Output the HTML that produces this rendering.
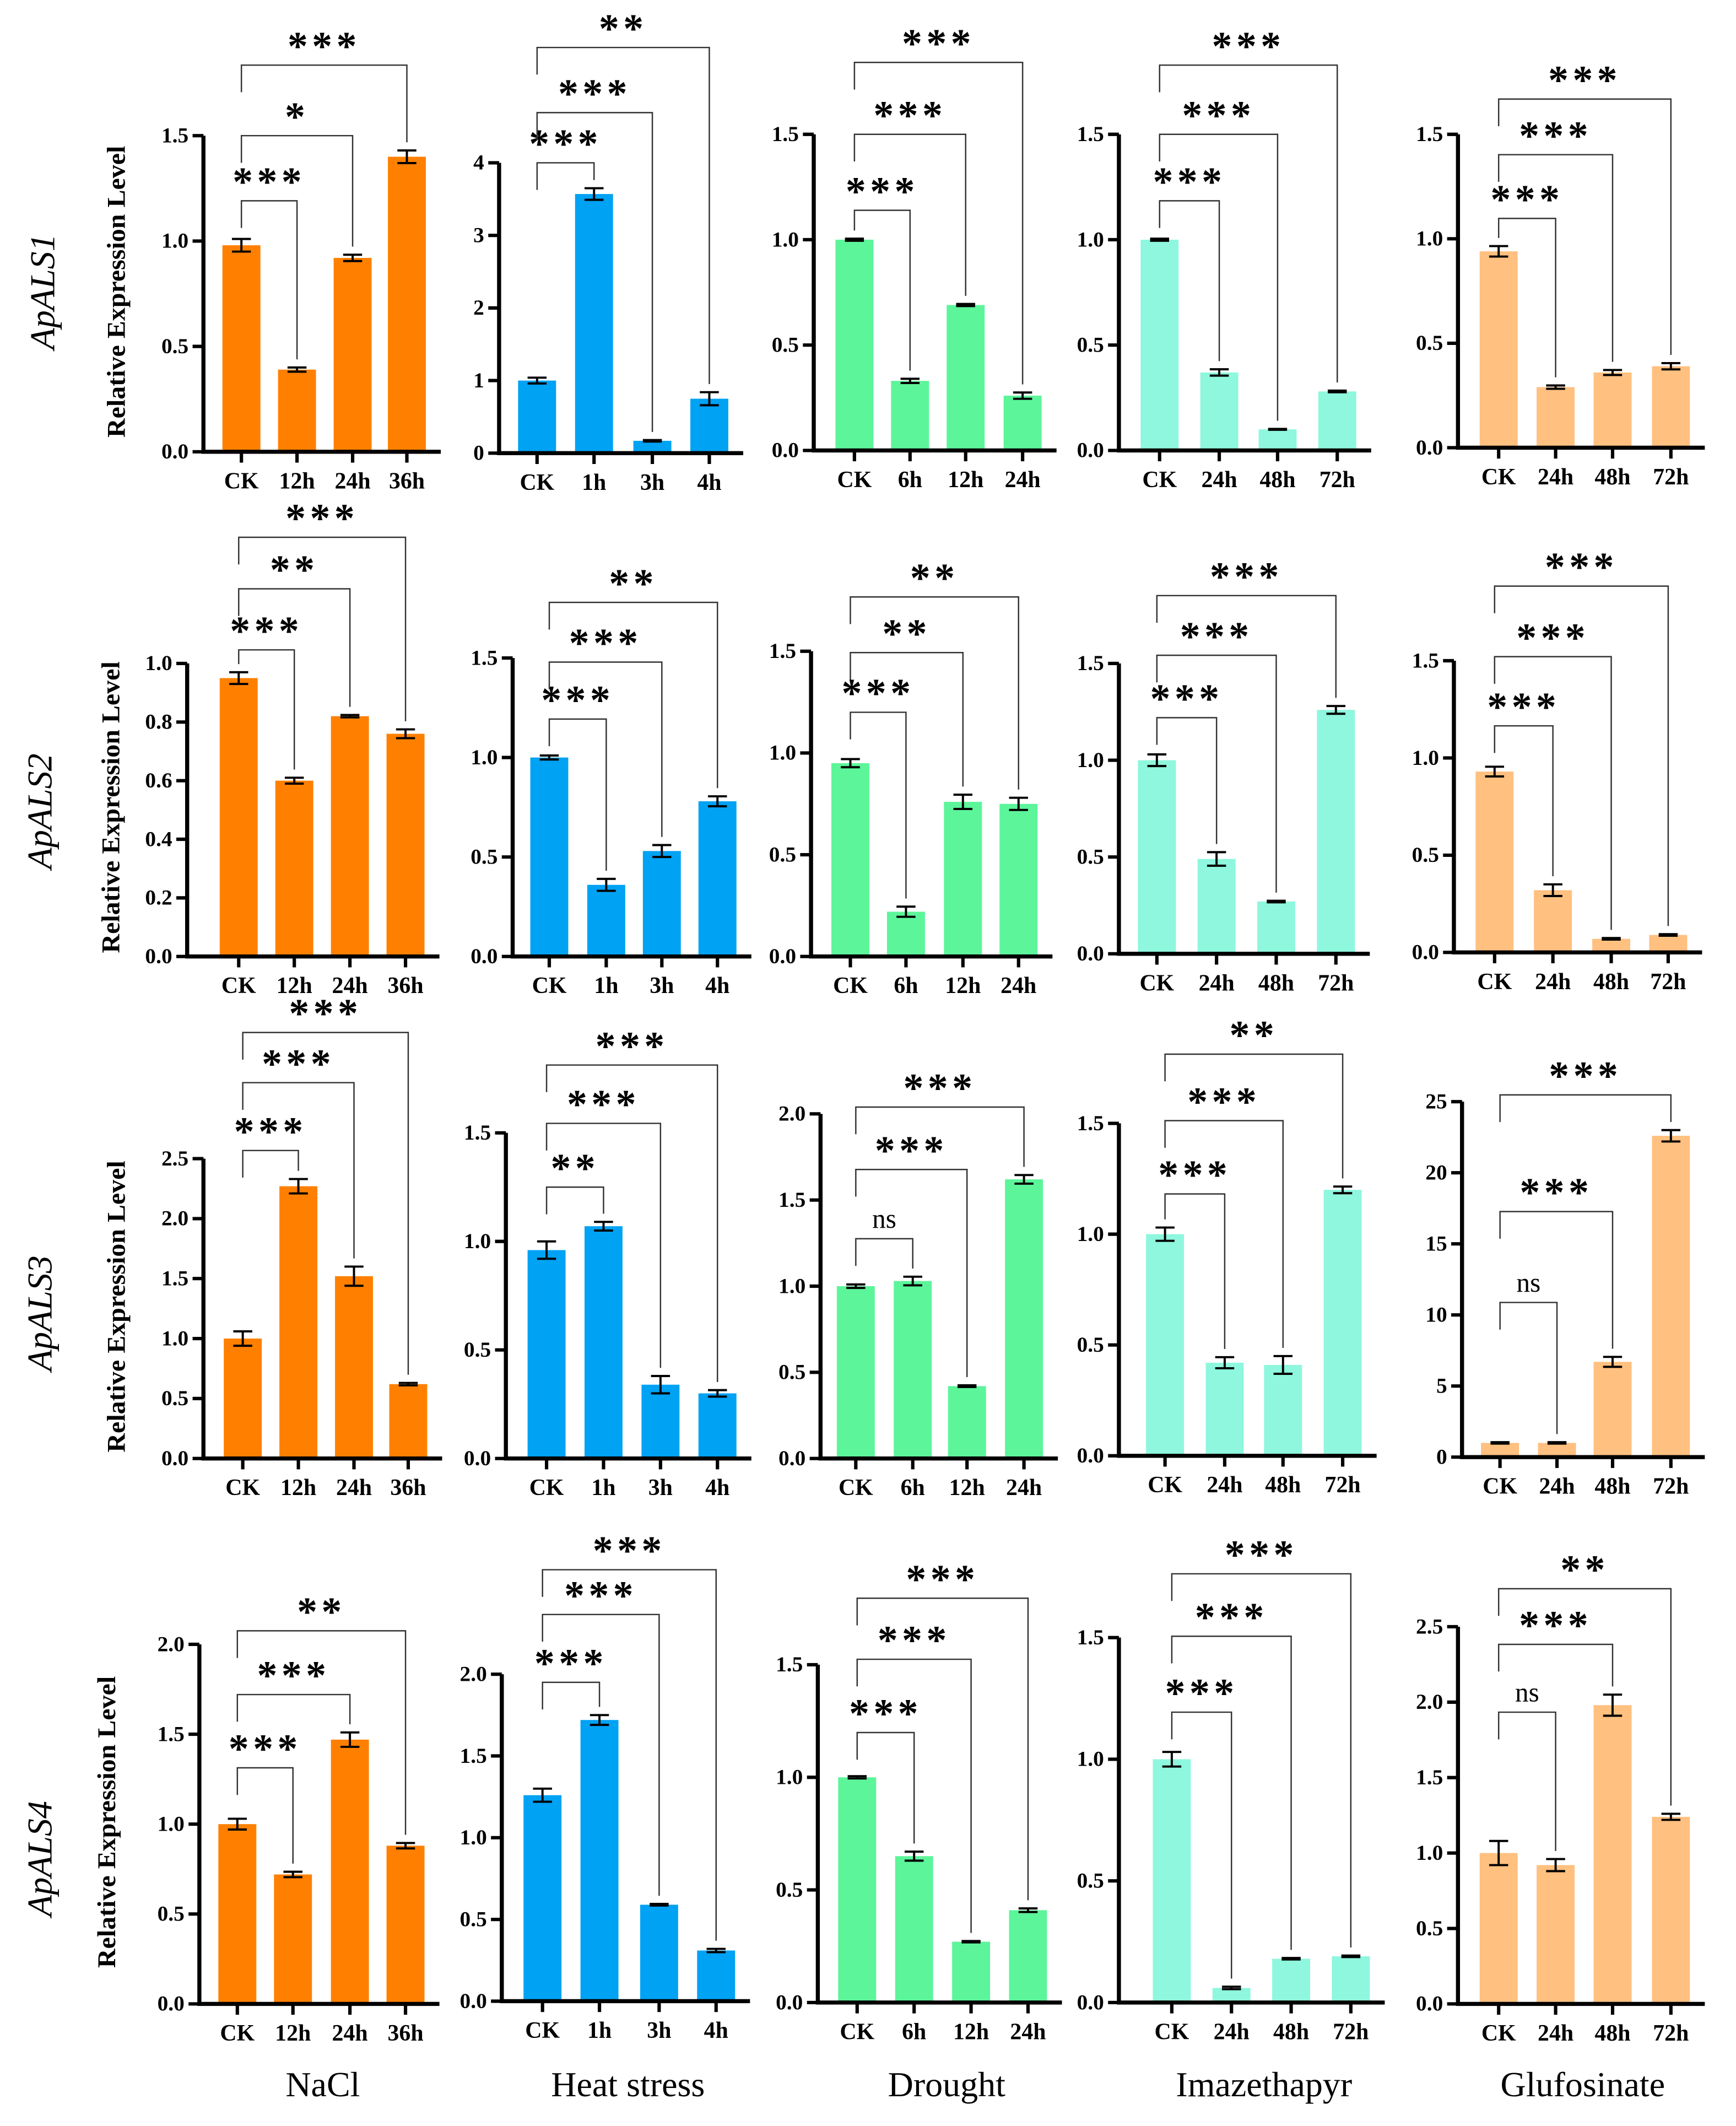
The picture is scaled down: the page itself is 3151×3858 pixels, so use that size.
<!DOCTYPE html>
<html><head><meta charset="utf-8"><style>
html,body{margin:0;padding:0;background:#fff;}
svg{display:block;}
text{font-family:"Liberation Serif",serif;}
</style></head><body>
<svg id="chart" width="3151" height="3858" viewBox="0 0 1280 1567" preserveAspectRatio="none" xmlns="http://www.w3.org/2000/svg">
<rect width="1280" height="1567" fill="#fff"/>
</svg>
<script>
// ---- data ----
const catNaCl = ["CK","12h","24h","36h"];
const catHeat = ["CK","1h","3h","4h"];
const catDrought = ["CK","6h","12h","24h"];
const catHerb = ["CK","24h","48h","72h"];

const r1NaCl = [0.98,0.39,0.92,1.40];   const e1NaCl = [0.03,0.01,0.015,0.03];
const r1Heat = [1.0,3.57,0.17,0.75];    const e1Heat = [0.04,0.08,0.01,0.09];
const r1Dro = [1.0,0.33,0.69,0.26];     const e1Dro = [0.005,0.01,0.005,0.015];
const r1Ima = [1.0,0.37,0.10,0.28];     const e1Ima = [0.005,0.015,0.002,0.004];
const r1Glu = [0.94,0.29,0.36,0.39];    const e1Glu = [0.025,0.008,0.012,0.015];

const r2NaCl = [0.95,0.60,0.82,0.76];   const e2NaCl = [0.02,0.01,0.004,0.015];
const r2Heat = [1.0,0.36,0.53,0.78];    const e2Heat = [0.01,0.03,0.03,0.025];
const r2Dro = [0.95,0.22,0.76,0.75];    const e2Dro = [0.02,0.025,0.035,0.03];
const r2Ima = [1.0,0.49,0.27,1.26];     const e2Ima = [0.03,0.035,0.004,0.02];
const r2Glu = [0.93,0.32,0.07,0.09];    const e2Glu = [0.025,0.03,0.004,0.004];

const r3NaCl = [1.0,2.27,1.52,0.62];    const e3NaCl = [0.06,0.06,0.08,0.01];
const r3Heat = [0.96,1.07,0.34,0.30];   const e3Heat = [0.04,0.02,0.04,0.015];
const r3Dro = [1.0,1.03,0.42,1.62];     const e3Dro = [0.01,0.025,0.005,0.025];
const r3Ima = [1.0,0.42,0.41,1.20];     const e3Ima = [0.03,0.025,0.04,0.015];
const r3Glu = [1.0,1.0,6.7,22.6];       const e3Glu = [0.05,0.05,0.35,0.4];

const r4NaCl = [1.0,0.72,1.47,0.88];    const e4NaCl = [0.03,0.015,0.04,0.015];
const r4Heat = [1.26,1.72,0.59,0.31];   const e4Heat = [0.04,0.03,0.005,0.01];
const r4Dro = [1.0,0.65,0.27,0.41];     const e4Dro = [0.005,0.02,0.003,0.008];
const r4Ima = [1.0,0.06,0.18,0.19];     const e4Ima = [0.03,0.005,0.003,0.003];
const r4Glu = [1.0,0.92,1.98,1.24];     const e4Glu = [0.08,0.04,0.07,0.02];

const sig1 = [["***","*","***"],["***","***","**"],["***","***","***"],["***","***","***"],["***","***","***"]];
const sig2 = [["***","**","***"],["***","***","**"],["***","**","**"],["***","***","***"],["***","***","***"]];
const sig3 = [["***","***","***"],["**","***","***"],["ns","***","***"],["***","***","**"],["ns","***","***"]];
const sig4 = [["***","***","**"],["***","***","***"],["***","***","***"],["***","***","***"],["ns","***","**"]];

const ticks15 = [0,0.5,1.0,1.5];
const ticks4 = [0,1,2,3,4];
const ticks10 = [0,0.2,0.4,0.6,0.8,1.0];
const ticks25 = [0,0.5,1.0,1.5,2.0,2.5];
const ticks20 = [0,0.5,1.0,1.5,2.0];
const ticks25i = [0,5,10,15,20,25];

const genes = ["ApALS1","ApALS2","ApALS3","ApALS4"];
const treatments = ["NaCl","Heat stress","Drought","Imazethapyr","Glufosinate"];

// ---- layout ----
const COLORS = ["#FF8000","#00A2F4","#5CF59A","#8EF7DD","#FFC080"];
const panels = [
 {r:0,c:0,cat:catNaCl,v:r1NaCl,e:e1NaCl,t:ticks15,fmt:1,ax:150,y0:333,yt:100,bx:[178,219,260,300],br:[148,100,48],s:sig1[0]},
 {r:0,c:1,cat:catHeat,v:r1Heat,e:e1Heat,t:ticks4,fmt:0,ax:368,y0:334,yt:120,bx:[396,438,481,523],br:[120,83,35],s:sig1[1]},
 {r:0,c:2,cat:catDrought,v:r1Dro,e:e1Dro,t:ticks15,fmt:1,ax:600,y0:332,yt:99,bx:[630,671,712,754],br:[155,99,46],s:sig1[2]},
 {r:0,c:3,cat:catHerb,v:r1Ima,e:e1Ima,t:ticks15,fmt:1,ax:825,y0:332,yt:99,bx:[855,899,942,986],br:[148,99,48],s:sig1[3]},
 {r:0,c:4,cat:catHerb,v:r1Glu,e:e1Glu,t:ticks15,fmt:1,ax:1075,y0:330,yt:99,bx:[1105,1147,1189,1232],br:[161,114,73],s:sig1[4]},
 {r:1,c:0,cat:catNaCl,v:r2NaCl,e:e2NaCl,t:ticks10,fmt:1,ax:138,y0:705,yt:489,bx:[176,217,258,299],br:[479,434,396],s:sig2[0]},
 {r:1,c:1,cat:catHeat,v:r2Heat,e:e2Heat,t:ticks15,fmt:1,ax:378,y0:705,yt:485,bx:[405,447,488,529],br:[530,488,444],s:sig2[1]},
 {r:1,c:2,cat:catDrought,v:r2Dro,e:e2Dro,t:ticks15,fmt:1,ax:598,y0:705,yt:480,bx:[627,668,710,751],br:[525,481,440],s:sig2[2]},
 {r:1,c:3,cat:catHerb,v:r2Ima,e:e2Ima,t:ticks15,fmt:1,ax:825,y0:703,yt:489,bx:[853,897,941,985],br:[529,483,439],s:sig2[3]},
 {r:1,c:4,cat:catHerb,v:r2Glu,e:e2Glu,t:ticks15,fmt:1,ax:1072,y0:702,yt:487,bx:[1102,1145,1188,1230],br:[535,484,432],s:sig2[4]},
 {r:2,c:0,cat:catNaCl,v:r3NaCl,e:e3NaCl,t:ticks25,fmt:1,ax:150,y0:1075,yt:854,bx:[179,220,261,301],br:[848,798,761],s:sig3[0]},
 {r:2,c:1,cat:catHeat,v:r3Heat,e:e3Heat,t:ticks15,fmt:1,ax:373,y0:1075,yt:835,bx:[403,445,487,529],br:[875,828,785],s:sig3[1]},
 {r:2,c:2,cat:catDrought,v:r3Dro,e:e3Dro,t:ticks20,fmt:1,ax:605,y0:1075,yt:821,bx:[631,673,713,755],br:[913,862,816],s:sig3[2]},
 {r:2,c:3,cat:catHerb,v:r3Ima,e:e3Ima,t:ticks15,fmt:1,ax:825,y0:1073,yt:828,bx:[859,903,946,990],br:[880,826,777],s:sig3[3]},
 {r:2,c:4,cat:catHerb,v:r3Glu,e:e3Glu,t:ticks25i,fmt:0,ax:1078,y0:1074,yt:812,bx:[1106,1148,1189,1232],br:[960,893,807],s:sig3[4]},
 {r:3,c:0,cat:catNaCl,v:r4NaCl,e:e4NaCl,t:ticks20,fmt:1,ax:147,y0:1477,yt:1212,bx:[175,216,258,299],br:[1303,1249,1202],s:sig4[0]},
 {r:3,c:1,cat:catHeat,v:r4Heat,e:e4Heat,t:ticks20,fmt:1,ax:370,y0:1475,yt:1234,bx:[400,442,486,528],br:[1240,1190,1157],s:sig4[1]},
 {r:3,c:2,cat:catDrought,v:r4Dro,e:e4Dro,t:ticks15,fmt:1,ax:603,y0:1476,yt:1227,bx:[632,674,716,758],br:[1277,1223,1178],s:sig4[2]},
 {r:3,c:3,cat:catHerb,v:r4Ima,e:e4Ima,t:ticks15,fmt:1,ax:825,y0:1476,yt:1207,bx:[864,908,952,996],br:[1262,1206,1160],s:sig4[3]},
 {r:3,c:4,cat:catHerb,v:r4Glu,e:e4Glu,t:ticks25,fmt:1,ax:1075,y0:1477,yt:1199,bx:[1105,1147,1189,1232],br:[1262,1212,1171],s:sig4[4]},
];
const geneLabelPos = [[40,215],[38,598],[38,968],[38,1370]];
const yTitlePos = [[92,215],[88,595],[92,963],[85,1343]];
const treatX = [238,463,698,932,1167];

const NS = "http://www.w3.org/2000/svg";
const svg = document.getElementById("chart");
function mk(tag, attrs, parent){
  const el = document.createElementNS(NS, tag);
  for (const k in attrs) el.setAttribute(k, attrs[k]);
  (parent||svg).appendChild(el);
  return el;
}

panels.forEach((p) => {
  const g = mk("g", {});
  
  
  const tmax = p.t[p.t.length-1];
  const yS = v => p.y0 - (v / tmax) * (p.y0 - p.yt);
  const bw = 28;
  const xEnd = p.bx[3] + 25;
  p.v.forEach((v, i) => {
    const x = p.bx[i];
    const b = mk("rect", {x: x - bw/2, y: yS(v), width: bw, height: p.y0 - yS(v), fill: COLORS[p.c]}, g);
    
    
    const et = yS(v + p.e[i]), eb = yS(Math.max(0, v - p.e[i]));
    const eg = mk("path", {d:`M${x},${et}V${eb}M${x-7},${et}H${x+7}M${x-7},${eb}H${x+7}`, stroke:"#000", "stroke-width":1.6, fill:"none"}, g);
    
    
    mk("line", {x1:x, x2:x, y1:p.y0, y2:p.y0+8, stroke:"#000", "stroke-width":2.5}, g);
    const xl = mk("text", {x:x, y:p.y0+27, "text-anchor":"middle", "font-size":17, "font-weight":"bold"}, g);
    xl.textContent = p.cat[i];
    
    
  });
  const ax = mk("path", {d:`M${p.ax},${p.yt}V${p.y0}H${xEnd}`, stroke:"#000", "stroke-width":3, fill:"none"}, g);
  
  
  p.t.forEach(t => {
    const y = yS(t);
    mk("line", {x1:p.ax-8, x2:p.ax, y1:y, y2:y, stroke:"#000", "stroke-width":2.5}, g);
    const tl = mk("text", {x:p.ax-11, y:y+5, "text-anchor":"end", "font-size":16, "font-weight":"bold"}, g);
    tl.textContent = p.fmt ? t.toFixed(1) : String(t);
    
    
  });
  p.br.forEach((by, k) => {
    const xl = p.bx[0], xr = p.bx[k+1];
    const topR = yS(p.v[k+1] + p.e[k+1]) - 6;
    const leftBottom = Math.min(by + 20, yS(p.v[0]+p.e[0]) - 6);
    const bp = mk("path", {d:`M${xl},${leftBottom}V${by}H${xr}V${topR}`, stroke:"#333", "stroke-width":1, fill:"none"}, g);
    
    
    const lab = p.s[k];
    const st = mk("text", {x:(xl+xr)/2, y: lab==="ns" ? by-8 : by-4, "text-anchor":"middle",
      "font-size": lab==="ns" ? 20 : 30, "font-weight": lab==="ns" ? "normal" : "bold",
      "letter-spacing": lab==="ns" ? 0 : 3, "font-family":"Liberation Sans, sans-serif"}, g);
    st.textContent = lab;
    
    
  });
});

genes.forEach((gname, r) => {
  const [gx, gy] = geneLabelPos[r];
  const t = mk("text", {x:gx, y:gy, transform:`rotate(-90 ${gx} ${gy})`, "text-anchor":"middle", "font-size":26, "font-style":"italic"});
  t.textContent = gname;
  
  
  const [tx, ty] = yTitlePos[r];
  const yt = mk("text", {x:tx, y:ty, transform:`rotate(-90 ${tx} ${ty})`, "text-anchor":"middle", "font-size":19, "font-weight":"bold", textLength:215, lengthAdjust:"spacingAndGlyphs"});
  yt.textContent = "Relative Expression Level";
  
  
});
treatments.forEach((tn, c) => {
  const t = mk("text", {x:treatX[c], y:1545, "text-anchor":"middle", "font-size":26});
  t.textContent = tn;
  
  
});
</script>
</body></html>
